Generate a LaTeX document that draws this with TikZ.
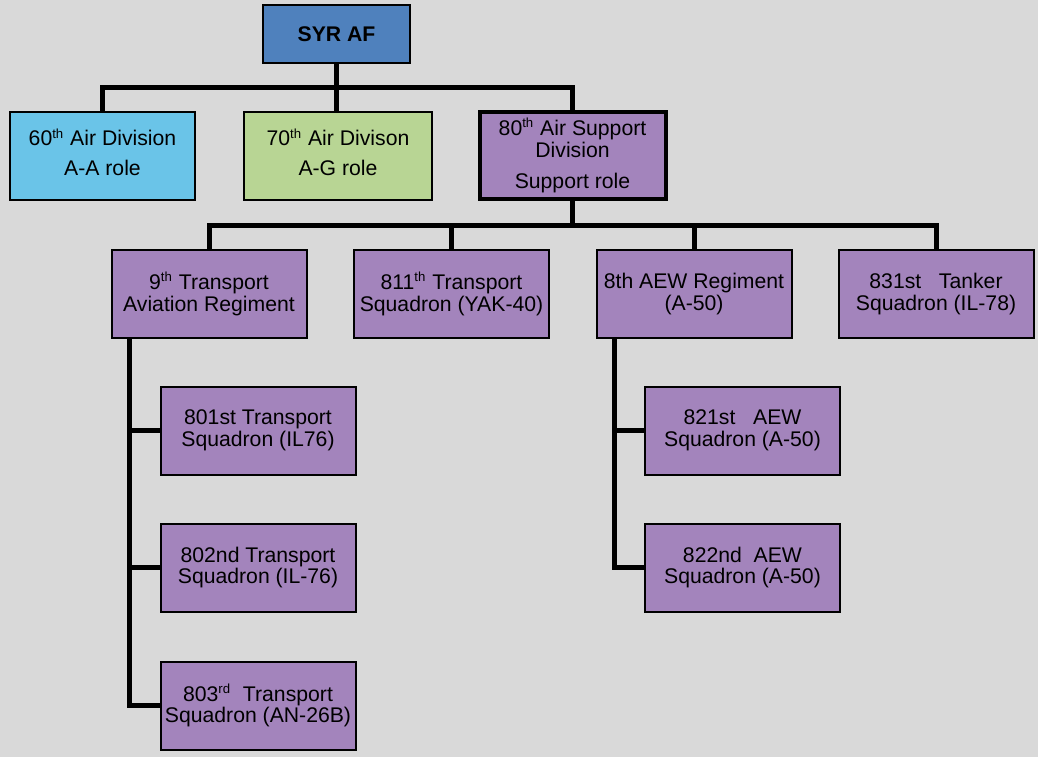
\documentclass[tikz,border=0pt]{standalone}
\usepackage{fontspec}
\setmainfont{Liberation Sans}
\usetikzlibrary{positioning}
\definecolor{bggray}{HTML}{D9D9D9}
\definecolor{topblue}{HTML}{4F81BD}
\definecolor{aablue}{HTML}{6AC4E8}
\definecolor{aggreen}{HTML}{B8D594}
\definecolor{suppurple}{HTML}{A384BC}
\newcommand{\ordsup}[1]{\textsuperscript{\fontsize{6.6}{6.6}\selectfont #1}}

\begin{document}
\begin{tikzpicture}[x=0.5pt,y=-0.5pt]
    \fill[bggray] (0,0) rectangle (1038,757);
    \useasboundingbox (0,0) rectangle (1038,757);

    \begin{scope}[every node/.style={rectangle,draw,line width=1pt,fill=suppurple,
        align=center,inner sep=0pt,minimum width=97.5pt,minimum height=44pt,
        font=\fontsize{10.6}{10.8}\selectfont}]
      \node[fill=topblue,minimum width=73.5pt,minimum height=29pt,font=\fontsize{10.6}{10.8}\selectfont\bfseries] (syr) at (336.5,34) {SYR AF};
      \node[fill=aablue,minimum width=92.5pt,text depth=4pt] (d60) at (102.5,156) {60\ordsup{th} Air Division\\[4pt]A-A role};
      \node[fill=aggreen,minimum width=94pt,text depth=4pt] (d70) at (338,156) {70\ordsup{th} Air Divison\\[4pt]A-G role};
      \node[line width=2pt,minimum width=93pt,minimum height=43.5pt] (d80) at (572.5,155.5) {80\ordsup{th} Air Support\\Division\\[5pt]Support role};

      \node (r9) at (209,294) {9\ordsup{th} Transport\\Aviation Regiment};
      \node (s811) at (451.5,294) {811\ordsup{th} Transport\\Squadron (YAK-40)};
      \node (r8) at (694,294) {8th AEW Regiment\\(A-50)};
      \node (s831) at (936,294) {831st\ \ \ Tanker\\Squadron (IL-78)};

      \node (s801) at (258,430.5) {801st Transport\\Squadron (IL76)};
      \node (s802) at (258,567.5) {802nd Transport\\Squadron (IL-76)};
      \node (s803) at (258,705.5) {803\ordsup{rd}\ \ Transport\\Squadron (AN-26B)};

      \node (s821) at (742.5,430.5) {821st\ \ \ AEW\\Squadron (A-50)};
      \node (s822) at (742.5,567.5) {822nd\ \ AEW\\Squadron (A-50)};
    \end{scope}

    \coordinate (bus1) at (336.5,87);
    \coordinate (bus2) at (572.5,225);
    \path (r9.south west) ++(19,0) coordinate (v9);
    \path (r8.south west) ++(19,0) coordinate (v8);

    \begin{scope}[line width=2.5pt,line join=miter]
      \draw (d60.north) |- (bus1) -| (d80.north);
      \draw (syr.south) -- (syr |- d70.north);

      \draw (r9.north) |- (bus2) -| (s831.north);
      \draw (d80.south) -- (bus2);
      \draw (s811.north) -- (s811 |- bus2);
      \draw (r8.north) -- (r8 |- bus2);

      \draw (v9) |- (s803.west);
      \draw (v9 |- s801.west) -- (s801.west);
      \draw (v9 |- s802.west) -- (s802.west);

      \draw (v8) |- (s822.west);
      \draw (v8 |- s821.west) -- (s821.west);
    \end{scope}
  \end{tikzpicture}
\end{document}
